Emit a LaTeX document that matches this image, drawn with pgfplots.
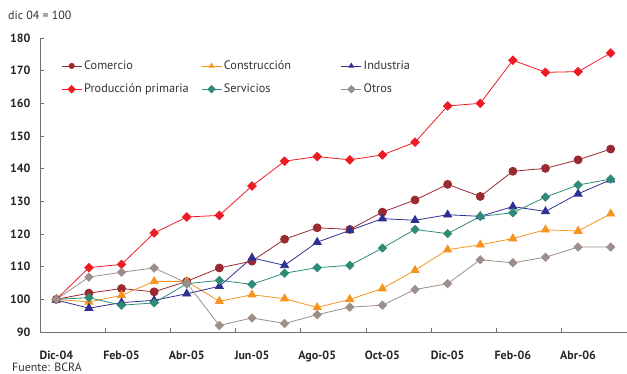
\documentclass[border=0pt]{standalone}
\usepackage{pgfplots}
\pgfplotsset{compat=1.18}
\usepackage{fontspec}
\setmainfont{PT Sans}

\definecolor{comercio}{HTML}{9B2A30}
\definecolor{construccion}{HTML}{F7941D}
\definecolor{industria}{HTML}{2E3192}
\definecolor{primaria}{HTML}{ED1C24}
\definecolor{servicios}{HTML}{2F8A78}
\definecolor{otros}{HTML}{9C8E89}
\definecolor{axiscol}{HTML}{707070}

% Monthly activity indices, base Dic-04 = 100 (months 0..17 = Dic-04..May-06)
\pgfplotstableread{
m  com    cons   ind    prim   serv   otr
0  100.0  100.0  99.8   100.0  100.0  100.0
1  101.9  99.2   97.3   109.7  100.5  106.8
2  103.3  101.2  99.0   110.7  98.2   108.3
3  102.3  105.5  99.7   120.3  98.9   109.6
4  105.5  105.5  101.7  125.2  104.8  105.0
5  109.6  99.4   104.0  125.7  105.8  92.0
6  111.7  101.4  112.7  134.7  104.6  94.3
7  118.4  100.2  110.4  142.3  108.0  92.6
8  121.9  97.5   117.5  143.7  109.7  95.3
9  121.4  100.0  121.1  142.7  110.4  97.6
10 126.7  103.3  124.7  144.2  115.7  98.2
11 130.4  108.9  124.2  148.1  121.4  103.0
12 135.2  115.2  125.9  159.2  120.1  104.8
13 131.5  116.7  125.4  160.0  125.4  112.1
14 139.2  118.6  128.4  173.2  126.5  111.2
15 140.1  121.3  126.9  169.5  131.3  112.9
16 142.7  120.9  132.3  169.7  135.0  116.0
17 146.0  126.2  136.6  175.4  136.8  116.0
}\datatable

\begin{document}
\begin{tikzpicture}
\begin{axis}[
  at={(0bp,0bp)}, anchor=south west,
  scale only axis, width=587bp, height=294bp,
  xmin=-0.5, xmax=17.5, ymin=90, ymax=180,
  axis x line*=bottom, axis y line*=left,
  axis line style={draw=axiscol, line width=0.8bp},
  tick align=inside,
  major tick length=4bp,
  tick style={draw=axiscol, line width=0.8bp},
  ytick={90,100,...,180},
  xtick={1.5,3.5,...,15.5},
  xticklabels={},
  extra x ticks={0,2,...,16},
  extra x tick labels={Dic-04,Feb-05,Abr-05,Jun-05,Ago-05,Oct-05,Dic-05,Feb-06,Abr-06},
  extra x tick style={major tick length=0pt},
  /pgf/number format/assume math mode=true,
  tick label style={font=\bfseries\fontsize{12}{14}\selectfont, text=black!85},
  x tick label style={yshift=-15bp},
  y tick label style={xshift=-6bp},
  legend columns=3,
  legend cell align=left,
  legend style={at={(0.036,0.93)}, anchor=north west, draw=none, fill=none,
    font=\fontsize{12.3}{14}\selectfont, text=black!80,
    row sep=9bp, inner sep=0pt},
  legend image code/.code={\draw[mark repeat=2,mark phase=2,#1,mark size=2.6bp]
    plot coordinates {(0bp,0bp) (10bp,0bp) (20bp,0bp)};},
  every axis plot/.append style={line width=0.8bp},
]
\addplot[color=comercio, mark=*, mark size=4bp] table[x=m,y=com] {\datatable};
\addlegendentry{\makebox[115bp][l]{Comercio}}
\addplot[color=construccion, mark=triangle*, mark size=4.6bp] table[x=m,y=cons] {\datatable};
\addlegendentry{\makebox[115bp][l]{Construcción}}
\addplot[color=industria, mark=triangle*, mark size=4.6bp] table[x=m,y=ind] {\datatable};
\addlegendentry{Industria}
\addplot[color=primaria, mark=square*, mark options={rotate=45}, mark size=3bp] table[x=m,y=prim] {\datatable};
\addlegendentry{\makebox[115bp][l]{Producción primaria}}
\addplot[color=servicios, mark=square*, mark options={rotate=45}, mark size=2.9bp] table[x=m,y=serv] {\datatable};
\addlegendentry{\makebox[115bp][l]{Servicios}}
\addplot[color=otros, mark=square*, mark options={rotate=45}, mark size=2.9bp] table[x=m,y=otr] {\datatable};
\addlegendentry{Otros}
\end{axis}
\node[anchor=west, font=\fontsize{12}{14}\selectfont, text=black!80, inner sep=0pt] at (-32bp,317bp) {dic 04 = 100};
\node[anchor=base west, font=\fontsize{12}{14}\selectfont, text=black!80, inner sep=0pt] at (-28bp,-39bp) {Fuente: BCRA};
\pgfresetboundingbox
\useasboundingbox (-40bp,-42bp) rectangle (587bp,332bp);
\end{tikzpicture}
\end{document}
